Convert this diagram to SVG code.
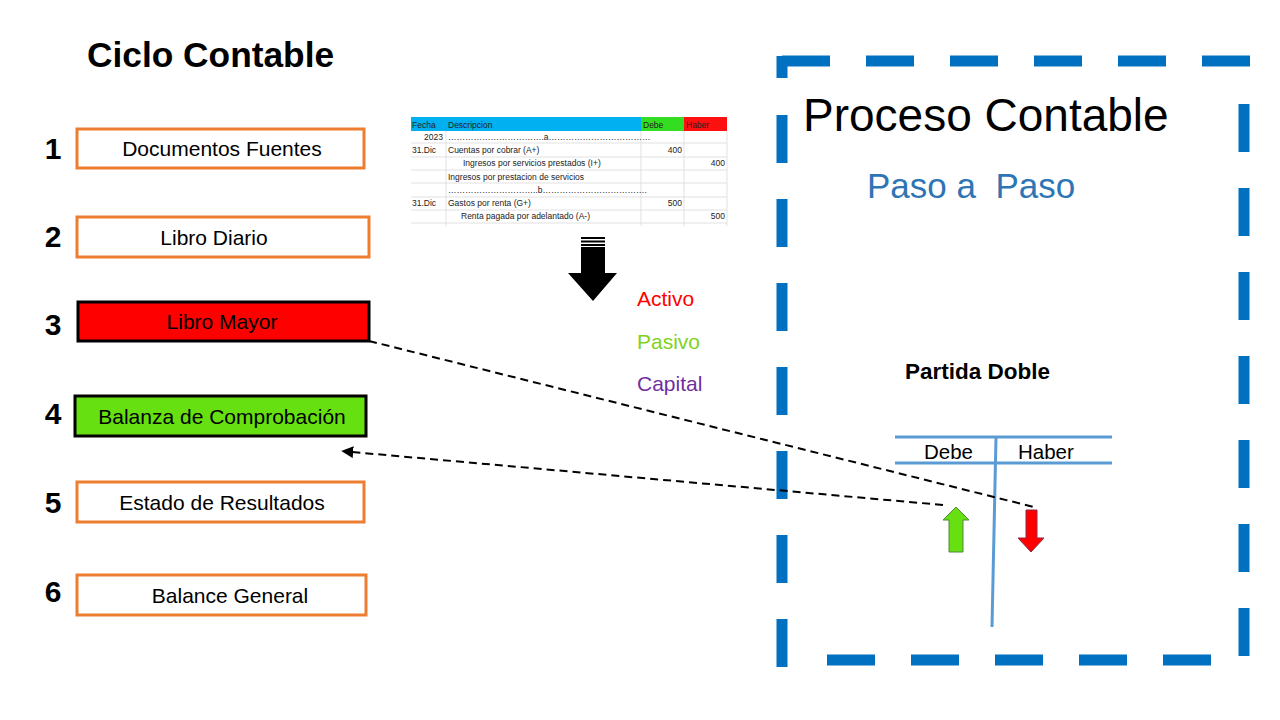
<svg xmlns="http://www.w3.org/2000/svg" width="1280" height="720" viewBox="0 0 1280 720">
<defs>
<style>
.f{font-family:"Liberation Sans",Arial,sans-serif}
.num{font-family:"Liberation Sans",Arial,sans-serif;font-weight:bold;font-size:30px;fill:#000;text-anchor:middle}
.lbl{font-family:"Liberation Sans",Arial,sans-serif;font-size:21px;fill:#000;text-anchor:middle}
.obox{fill:#fff;stroke:#ED7D31;stroke-width:3}
.kbox{stroke:#000;stroke-width:3}
.dash{stroke:#0070C0;stroke-width:11;fill:none;stroke-dasharray:48 36}
.tl{stroke:#5B9BD5;stroke-width:3;fill:none}
.conn{stroke:#000;stroke-width:2;fill:none;stroke-dasharray:8 5}
.tt{font-family:"Liberation Sans",Arial,sans-serif;font-size:8.5px;fill:#222}
.grid{stroke:#d9d9d9;stroke-width:0.8}
</style>
<marker id="ah" viewBox="0 0 10 10" refX="1" refY="5" markerWidth="6" markerHeight="6" orient="auto-start-reverse">
<path d="M0,0 L10,5 L0,10 z" fill="#000"/>
</marker>
</defs>
<rect width="1280" height="720" fill="#fff"/>

<text class="f" x="87" y="67" font-size="35.3" font-weight="bold">Ciclo Contable</text>

<g id="n1"><text class="num" x="53" y="159">1</text><rect class="obox" x="77" y="129" width="287" height="39"/><text class="lbl" x="222" y="156">Documentos Fuentes</text></g>
<g id="n2"><text class="num" x="53" y="247">2</text><rect class="obox" x="77" y="217" width="292" height="40"/><text class="lbl" x="214" y="245">Libro Diario</text></g>
<g id="n3"><text class="num" x="53" y="335">3</text><rect class="kbox" x="78" y="302" width="291" height="39" fill="#FF0000"/><text class="lbl" x="222" y="329">Libro Mayor</text></g>
<g id="n4"><text class="num" x="53" y="424">4</text><rect class="kbox" x="75" y="396" width="291" height="40" fill="#66E010"/><text class="lbl" x="222" y="424">Balanza de Comprobación</text></g>
<g id="n5"><text class="num" x="53" y="513">5</text><rect class="obox" x="77" y="482" width="287" height="40"/><text class="lbl" x="222" y="510">Estado de Resultados</text></g>
<g id="n6"><text class="num" x="53" y="602">6</text><rect class="obox" x="77" y="575" width="289" height="40"/><text class="lbl" x="230" y="603">Balance General</text></g>

<g id="tabla">
<rect x="411" y="117" width="230" height="14" fill="#00B0F0"/>
<rect x="641" y="117" width="43" height="14" fill="#33DD22"/>
<rect x="684" y="117" width="43" height="14" fill="#FF1010"/>
<g class="grid">
<line x1="411" y1="143" x2="727" y2="143"/><line x1="411" y1="157" x2="727" y2="157"/><line x1="411" y1="170" x2="727" y2="170"/><line x1="411" y1="183" x2="727" y2="183"/><line x1="411" y1="197" x2="727" y2="197"/><line x1="411" y1="210" x2="727" y2="210"/><line x1="411" y1="223" x2="727" y2="223"/>
<line x1="446" y1="131" x2="446" y2="226"/><line x1="641" y1="131" x2="641" y2="226"/><line x1="684" y1="131" x2="684" y2="226"/><line x1="727" y1="131" x2="727" y2="226"/>
</g>
<text class="tt" x="412" y="128" fill="#1F3864">Fecha</text>
<text class="tt" x="448" y="128" fill="#1F3864">Descripcion</text>
<text class="tt" x="643" y="128" fill="#2F5F2F">Debe</text>
<text class="tt" x="686" y="128" fill="#8B1010">Haber</text>
<text class="tt" x="443" y="140" text-anchor="end">2023</text>
<text class="tt" x="448" y="140">…………………………….a………………………………</text>
<text class="tt" x="412" y="153">31.Dic</text>
<text class="tt" x="448" y="153">Cuentas por cobrar (A+)</text>
<text class="tt" x="682" y="153" text-anchor="end">400</text>
<text class="tt" x="463" y="166">Ingresos por servicios prestados (I+)</text>
<text class="tt" x="725" y="166" text-anchor="end">400</text>
<text class="tt" x="448" y="180">Ingresos por prestacion de servicios</text>
<text class="tt" x="448" y="193">…………………………..b……………………………….</text>
<text class="tt" x="412" y="206">31.Dic</text>
<text class="tt" x="448" y="206">Gastos por renta (G+)</text>
<text class="tt" x="682" y="206" text-anchor="end">500</text>
<text class="tt" x="461" y="219">Renta pagada por adelantado (A-)</text>
<text class="tt" x="725" y="219" text-anchor="end">500</text>
</g>

<g id="flecha-negra">
<rect x="581" y="237" width="24" height="2" fill="#000"/>
<rect x="581" y="240.5" width="24" height="2" fill="#000"/>
<rect x="581" y="244" width="24" height="2" fill="#000"/>
<path d="M581,247 L605,247 L605,273 L617,273 L593,301 L568,273 L581,273 Z" fill="#000"/>
</g>

<g id="leyenda" class="f" font-size="21">
<text x="637" y="306" fill="#FF0000">Activo</text>
<text x="637" y="349" fill="#7ED321">Pasivo</text>
<text x="637" y="391" fill="#7030A0">Capital</text>
</g>

<g id="marco">
<line class="dash" x1="782" y1="56" x2="782" y2="78" style="stroke-dasharray:none"/>
<line class="dash" x1="782" y1="61" x2="1250" y2="61"/>
<line class="dash" x1="782" y1="115" x2="782" y2="667"/>
<line class="dash" x1="827" y1="660" x2="1212" y2="660"/>
<line class="dash" x1="1244" y1="104" x2="1244" y2="656"/>
</g>

<text class="f" x="803" y="131" font-size="46" fill="#000">Proceso Contable</text>
<text class="f" x="867" y="198" font-size="35" fill="#2E75B6" xml:space="preserve" style="white-space:pre">Paso a  Paso</text>
<text class="f" x="905" y="379" font-size="22.5" font-weight="bold" fill="#000">Partida Doble</text>

<g id="cuenta-t">
<line class="tl" x1="895" y1="437" x2="1112" y2="437"/>
<line class="tl" x1="895" y1="463" x2="1112" y2="463"/>
<line class="tl" x1="996" y1="437" x2="992" y2="627"/>
<text class="f" x="924" y="459" font-size="20.5">Debe</text>
<text class="f" x="1018" y="459" font-size="20.5">Haber</text>
</g>

<g id="flecha-verde"><path d="M956,507 L969,520 L963,520 L963,552 L949,552 L949,520 L943,520 Z" fill="#66E010" stroke="#4E8A3A" stroke-width="1"/></g>
<g id="flecha-roja"><path d="M1026,510 L1037,510 L1037,538 L1044,538 L1031,552 L1018,538 L1026,538 Z" fill="#FF0000" stroke="#8B2A4A" stroke-width="1"/></g>

<g id="conectores">
<line class="conn" x1="369" y1="341" x2="1034" y2="507"/>
<line class="conn" x1="943" y1="505" x2="352" y2="452" marker-end="url(#ah)"/>
</g>
</svg>
